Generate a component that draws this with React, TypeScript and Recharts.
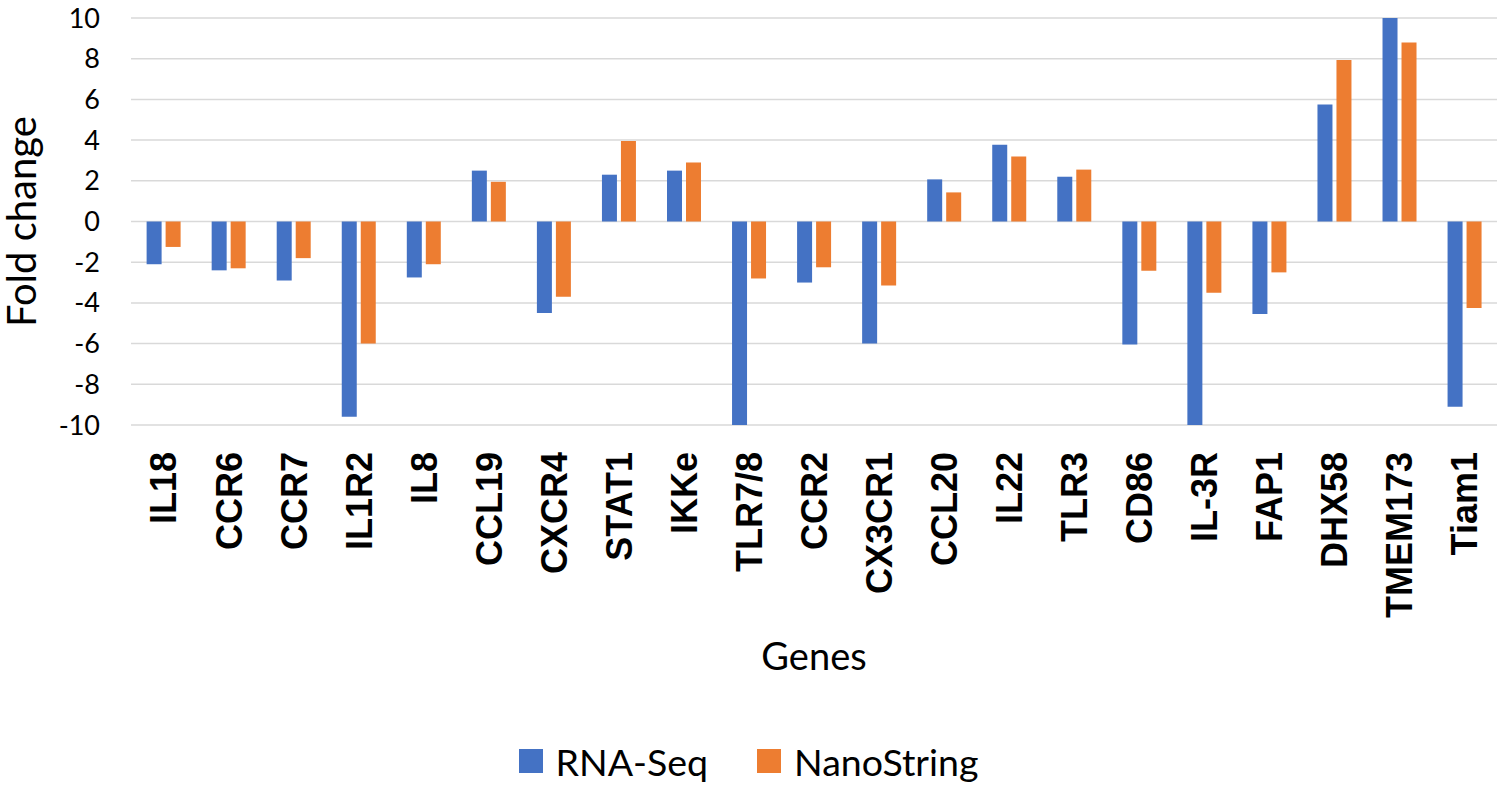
import React from "react";
import {
  BarChart,
  Bar,
  XAxis,
  YAxis,
  CartesianGrid,
  Legend,
} from "recharts";

if (typeof document !== "undefined") {
  document.body.style.margin = "0";
}

const genes = [
  "IL18", "CCR6", "CCR7", "IL1R2", "IL8", "CCL19", "CXCR4", "STAT1", "IKKe",
  "TLR7/8", "CCR2", "CX3CR1", "CCL20", "IL22", "TLR3", "CD86", "IL-3R",
  "FAP1", "DHX58", "TMEM173", "Tiam1",
];

const rnaSeq = [
  -2.1, -2.4, -2.9, -9.6, -2.75, 2.5, -4.5, 2.3, 2.5,
  -10.15, -3.0, -6.0, 2.07, 3.77, 2.2, -6.05, -10.15,
  -4.55, 5.75, 10, -9.1,
];

const nanoString = [
  -1.25, -2.3, -1.8, -6.0, -2.1, 1.95, -3.7, 3.95, 2.9,
  -2.8, -2.25, -3.15, 1.43, 3.2, 2.55, -2.42, -3.5,
  -2.5, 7.93, 8.8, -4.25,
];

const yTicks = [-10, -8, -6, -4, -2, 0, 2, 4, 6, 8, 10];

const series = [
  { key: "rna", label: "RNA-Seq", color: "#4472C4" },
  { key: "nano", label: "NanoString", color: "#ED7D31" },
];

const data = genes.map((g, i) => ({
  gene: g,
  rna: rnaSeq[i],
  nano: nanoString[i],
}));

const GeneTick = (props: any) => {
  const { x, y, payload } = props;
  return (
    <text
      x={x}
      y={y}
      transform={`rotate(-90 ${x} ${y})`}
      textAnchor="end"
      dy="0.36em"
      fontFamily="'Liberation Sans', Arial, sans-serif"
      fontWeight="bold"
      fontSize={36}
      fill="#000"
    >
      {payload.value}
    </text>
  );
};

// rotated y-axis title, centred on the plot height
const FoldLabel = (props: any) => {
  const vb = props.viewBox || {};
  const cx = (vb.x || 0) + 22;
  const cy = (vb.y || 0) + (vb.height || 0) / 2;
  return (
    <text
      x={cx}
      y={cy}
      transform={`rotate(-90 ${cx} ${cy})`}
      textAnchor="middle"
      dy="0.36em"
      fontFamily="Lato, sans-serif"
      fontSize={40}
      fill="#000"
    >
      Fold change
    </text>
  );
};

const LegendBox = () => (
  <div
    style={{
      height: 60,
      display: "flex",
      justifyContent: "center",
      alignItems: "center",
      fontFamily: "Lato, sans-serif",
      fontSize: 37.5,
      color: "#000",
    }}
  >
    {series.map((s, i) => (
      <div
        key={s.key}
        style={{
          display: "flex",
          alignItems: "center",
          marginLeft: i === 0 ? 0 : 49,
        }}
      >
        <svg width={24} height={24} style={{ marginRight: 13, flex: "0 0 24px" }}>
          <rect width={24} height={24} fill={s.color} />
        </svg>
        <span>{s.label}</span>
      </div>
    ))}
  </div>
);

export default function App() {
  return (
    <div style={{ width: 1498, height: 791, background: "#fff" }}>
      <BarChart
        width={1498}
        height={791}
        data={data}
        margin={{ top: 18, right: 1, left: 0, bottom: 0 }}
        barCategoryGap="24%"
        barGap={4}
      >
        <CartesianGrid
          vertical={false}
          stroke="#d9d9d9"
          strokeWidth={1.5}
        />
        <XAxis
          dataKey="gene"
          interval={0}
          tick={<GeneTick />}
          tickLine={false}
          axisLine={false}
          tickSize={0}
          tickMargin={27}
          height={306}
          label={{
            value: "Genes",
            position: "insideBottom",
            offset: 61,
            style: {
              fontFamily: "Lato, sans-serif",
              fontSize: 38,
              fill: "#000",
            },
          }}
        />
        <YAxis
          width={131}
          domain={[-10, 10]}
          ticks={yTicks}
          allowDataOverflow
          tickLine={false}
          axisLine={false}
          tickSize={0}
          tickMargin={31}
          tick={{
            fontFamily: "Lato, sans-serif",
            fontSize: 27,
            fill: "#000",
          }}
          label={<FoldLabel />}
        />
        <Legend verticalAlign="bottom" content={<LegendBox />} />
        {series.map((s) => (
          <Bar
            key={s.key}
            dataKey={s.key}
            name={s.label}
            fill={s.color}
            isAnimationActive={false}
          />
        ))}
      </BarChart>
    </div>
  );
}
